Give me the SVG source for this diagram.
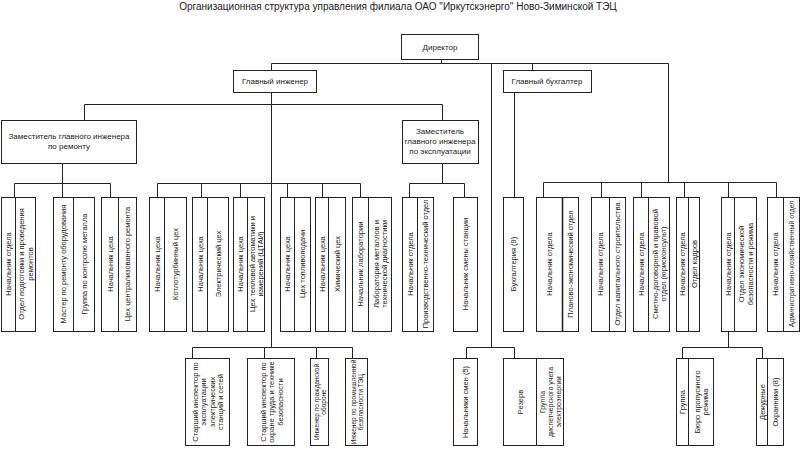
<svg xmlns="http://www.w3.org/2000/svg" width="800" height="459" viewBox="0 0 800 459">
<style>
rect{fill:#fff;stroke:#222;stroke-width:1}
line,.d{stroke:#222;stroke-width:1}
text{font-family:"Liberation Sans",Arial,sans-serif;fill:#222}
.t{font-size:10px}
.h{font-size:8px;text-anchor:middle}
.v{font-size:7.5px;text-anchor:middle;dominant-baseline:central}
</style>
<rect x="0" y="0" width="800" height="459" style="stroke:none"/>
<text class="t" x="398" y="10" text-anchor="middle">Организационная структура управления филиала ОАО "Иркутскэнерго" Ново-Зиминской ТЭЦ</text>

<g id="director"><rect x="401.5" y="34.5" width="77" height="25"/><text class="h" x="440" y="50">Директор</text></g>
<g id="chief-engineer"><rect x="233.5" y="70.5" width="83" height="22"/><text class="h" x="275" y="84">Главный инженер</text></g>
<g id="chief-accountant"><rect x="503.5" y="70.5" width="88" height="22"/><text class="h" x="547" y="84">Главный бухгалтер</text></g>
<g id="deputy-repair"><rect x="1.5" y="120.5" width="135" height="43"/><text class="h" x="69" y="139">Заместитель главного инженера</text><text class="h" x="69" y="149">по ремонту</text></g>
<g id="deputy-operation"><rect x="402.5" y="120.5" width="76" height="43"/><text class="h" x="440" y="134">Заместитель</text><text class="h" x="440" y="144">главного инженера</text><text class="h" x="440" y="154">по эксплуатации</text></g>

<!-- row 2: y 197..331 -->
<g id="r-a"><rect x="1.5" y="197.5" width="34" height="134"/><line x1="15.5" y1="197.5" x2="15.5" y2="331.5"/>
<text class="v" transform="translate(8.5,264) rotate(-90)">Начальник отдела</text>
<text class="v" transform="translate(25.5,264) rotate(-90)"><tspan x="0" y="-4.25">Отдел подготовки и проведения</tspan><tspan x="0" y="4.25">ремонтов</tspan></text></g>
<g id="r-b"><rect x="53.5" y="197.5" width="41" height="134"/><line x1="73.5" y1="197.5" x2="73.5" y2="331.5"/>
<text class="v" transform="translate(63.5,264) rotate(-90)">Мастер по ремонту оборудования</text>
<text class="v" transform="translate(84,264) rotate(-90)">Группа по контролю металла</text></g>
<g id="r-c"><rect x="101.5" y="197.5" width="35" height="134"/><line x1="118.5" y1="197.5" x2="118.5" y2="331.5"/>
<text class="v" transform="translate(110,264) rotate(-90)">Начальник цеха</text>
<text class="v" transform="translate(127.5,264) rotate(-90)">Цех централизованного ремонта</text></g>

<g id="e-1"><rect x="149.5" y="197.5" width="37" height="134"/><line x1="164.5" y1="197.5" x2="164.5" y2="331.5"/>
<text class="v" transform="translate(157,264) rotate(-90)">Начальник цеха</text>
<text class="v" transform="translate(175.5,264) rotate(-90)">Котлотурбинный цех</text></g>
<g id="e-2"><rect x="192.5" y="197.5" width="36" height="134"/><line x1="207.5" y1="197.5" x2="207.5" y2="331.5"/>
<text class="v" transform="translate(200,264) rotate(-90)">Начальник цеха</text>
<text class="v" transform="translate(218,264) rotate(-90)">Электрический цех</text></g>
<g id="e-3"><rect x="233.5" y="197.5" width="31" height="134"/><line x1="247.5" y1="197.5" x2="247.5" y2="331.5"/>
<text class="v" transform="translate(240.5,264) rotate(-90)">Начальник цеха</text>
<text class="v" transform="translate(256,264) rotate(-90)"><tspan x="0" y="-4">Цех тепловой автоматики и</tspan><tspan x="0" y="4">измерений (ЦТАИ)</tspan></text></g>
<g id="e-4"><rect x="280.5" y="197.5" width="30" height="134"/><line x1="294.5" y1="197.5" x2="294.5" y2="331.5"/>
<text class="v" transform="translate(287.5,264) rotate(-90)">Начальник цеха</text>
<text class="v" transform="translate(302.5,264) rotate(-90)">Цех топливоподачи</text></g>
<g id="e-5"><rect x="315.5" y="197.5" width="30" height="134"/><line x1="328.5" y1="197.5" x2="328.5" y2="331.5"/>
<text class="v" transform="translate(322,264) rotate(-90)">Начальник цеха</text>
<text class="v" transform="translate(337,264) rotate(-90)">Химический цех</text></g>
<g id="e-6"><rect x="352.5" y="197.5" width="39" height="134"/><line x1="368.5" y1="197.5" x2="368.5" y2="331.5"/>
<text class="v" transform="translate(360.5,264) rotate(-90)">Начальник лаборатории</text>
<text class="v" transform="translate(380,264) rotate(-90)"><tspan x="0" y="-4.25">Лаборатория металлов и</tspan><tspan x="0" y="4.25">технической диагностики</tspan></text></g>

<g id="o-1"><rect x="402.5" y="197.5" width="31" height="134"/><line x1="417.5" y1="197.5" x2="417.5" y2="331.5"/>
<text class="v" transform="translate(410,264) rotate(-90)">Начальник отдела</text>
<text class="v" transform="translate(425.5,264) rotate(-90)">Производственно-технический отдел</text></g>
<g id="o-2"><rect x="453.5" y="197.5" width="24" height="134"/>
<text class="v" transform="translate(465.5,264) rotate(-90)">Начальник смены станции</text></g>

<g id="accounting"><rect x="503.5" y="197.5" width="20" height="134"/>
<text class="v" transform="translate(513.5,264) rotate(-90)">Бухгалтерия (9)</text></g>

<g id="d-1"><rect x="536.5" y="197.5" width="42" height="134"/><line x1="562.5" y1="197.5" x2="562.5" y2="331.5" style="stroke-width:1.6"/>
<text class="v" transform="translate(549.5,264) rotate(-90)">Начальник отдела</text>
<text class="v" transform="translate(570.5,264) rotate(-90)">Планово-экономический отдел</text></g>
<g id="d-2"><rect x="591.5" y="197.5" width="34" height="134"/><line x1="609.5" y1="197.5" x2="609.5" y2="331.5"/>
<text class="v" transform="translate(600.5,264) rotate(-90)">Начальник отдела</text>
<text class="v" transform="translate(617.5,264) rotate(-90)">Отдел капитального строительства</text></g>
<g id="d-3"><rect x="633.5" y="197.5" width="36" height="134"/><line x1="648.5" y1="197.5" x2="648.5" y2="331.5"/>
<text class="v" transform="translate(641,264) rotate(-90)">Начальник отдела</text>
<text class="v" transform="translate(659,264) rotate(-90)"><tspan x="0" y="-4.25">Сметно-договорной и правовой</tspan><tspan x="0" y="4.25">отдел (юрисконсульт)</tspan></text></g>
<g id="d-4"><rect x="676.5" y="197.5" width="23" height="134"/><line x1="688.5" y1="197.5" x2="688.5" y2="331.5"/>
<text class="v" transform="translate(682.5,264) rotate(-90)">Начальник отдела</text>
<text class="v" transform="translate(694,264) rotate(-90)">Отдел кадров</text></g>
<g id="d-5"><rect x="721.5" y="197.5" width="35" height="134"/><line x1="734.5" y1="197.5" x2="734.5" y2="331.5"/>
<text class="v" transform="translate(728,264) rotate(-90)">Начальник отдела</text>
<text class="v" transform="translate(745.5,264) rotate(-90)"><tspan x="0" y="-4.25">Отдел экономической</tspan><tspan x="0" y="4.25">безопасности и режима</tspan></text></g>
<g id="d-6"><rect x="767.5" y="197.5" width="32" height="134"/><line x1="783.5" y1="197.5" x2="783.5" y2="331.5"/>
<text class="v" transform="translate(775.5,264) rotate(-90)">Начальник отдела</text>
<text class="v" style="font-size:6.8px" transform="translate(791.5,264) rotate(-90)">Административно-хозяйственный отдел</text></g>

<!-- row 3: y 358..445 -->
<g id="b-1"><rect x="185.5" y="358.5" width="44" height="87"/>
<text class="v" transform="translate(207.5,402) rotate(-90)"><tspan x="0" y="-12.75">Старший инспектор по</tspan><tspan x="0" y="-4.25">эксплуатации</tspan><tspan x="0" y="4.25">электрических</tspan><tspan x="0" y="12.75">станций и сетей</tspan></text></g>
<g id="b-2"><rect x="247.5" y="358.5" width="47" height="87"/>
<text class="v" transform="translate(271,402) rotate(-90)"><tspan x="0" y="-8.5">Старший инспектор по</tspan><tspan x="0" y="0">охране труда и технике</tspan><tspan x="0" y="8.5">безопасности</tspan></text></g>
<g id="b-3"><rect x="310.5" y="358.5" width="18" height="87"/>
<text class="v" style="font-size:6.5px" transform="translate(319.5,402) rotate(-90)"><tspan x="0" y="-3.5">Инженер по гражданской</tspan><tspan x="0" y="3.5">обороне</tspan></text></g>
<g id="b-4"><rect x="345.5" y="358.5" width="22" height="87"/>
<text class="v" style="font-size:6.5px" transform="translate(356.5,402) rotate(-90)"><tspan x="0" y="-3.75">Инженер по промышленной</tspan><tspan x="0" y="3.75">безопасности ТЭЦ</tspan></text></g>
<g id="s-1"><rect x="453.5" y="358.5" width="24" height="87"/>
<text class="v" transform="translate(465.5,402) rotate(-90)">Начальники смен (5)</text></g>
<g id="s-2"><rect x="503.5" y="358.5" width="60" height="87"/><line x1="536.5" y1="358.5" x2="536.5" y2="445.5"/>
<text class="v" transform="translate(520,402) rotate(-90)">Резерв</text>
<text class="v" style="font-size:7px" transform="translate(550,402) rotate(-90)"><tspan x="0" y="-8">Группа</tspan><tspan x="0" y="0">диспетчерского учета</tspan><tspan x="0" y="8">электроэнергии</tspan></text></g>
<g id="g-1"><rect x="676.5" y="358.5" width="37" height="87"/><line x1="688.5" y1="358.5" x2="688.5" y2="445.5"/>
<text class="v" transform="translate(682.5,402) rotate(-90)">Группа</text>
<text class="v" transform="translate(701,402) rotate(-90)"><tspan x="0" y="-4.25">Бюро пропускного</tspan><tspan x="0" y="4.25">режима</tspan></text></g>
<g id="g-2"><rect x="756.5" y="358.5" width="27" height="87"/><line x1="767.5" y1="358.5" x2="767.5" y2="445.5"/>
<text class="v" transform="translate(762,402) rotate(-90)">Дежурные</text>
<text class="v" transform="translate(775.5,402) rotate(-90)">Охранники (8)</text></g>

<g id="connectors" style="stroke:#222;stroke-width:1;fill:none">
<path class="d" d="M441.5 59.5V63.5M271.5 63.5H668.5V182.5M271.5 63.5V70.5M271.5 92.5V347.5M532.5 63.5V70.5M491.5 63.5V347.5"/>
<path class="d" d="M84.5 120.5V104.5H442.5V120.5"/>
<path class="d" d="M62.5 163.5V197.5M14.5 197.5V183.5H110.5V197.5"/>
<path class="d" d="M157.5 197.5V183.5H360.5V197.5M201.5 183.5V197.5M240.5 183.5V197.5M287.5 183.5V197.5M322.5 183.5V197.5"/>
<path class="d" d="M442.5 163.5V183.5M409.5 197.5V183.5H464.5V197.5"/>
<path class="d" d="M514.5 92.5V197.5"/>
<path class="d" d="M543.5 197.5V182.5H776.5V197.5M601.5 182.5V197.5M641.5 182.5V197.5M684.5 182.5V197.5M728.5 182.5V197.5"/>
<path class="d" d="M466.5 358.5V347.5H514.5V358.5"/>
<path class="d" d="M192.5 358.5V347.5H352.5V358.5M264.5 347.5V358.5M316.5 347.5V358.5"/>
<path class="d" d="M728.5 331.5V347.5M682.5 358.5V347.5H762.5V358.5"/>
</g>
</svg>
